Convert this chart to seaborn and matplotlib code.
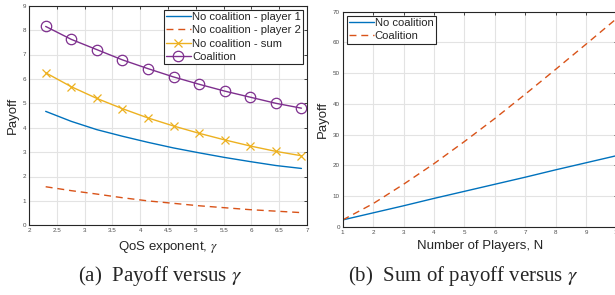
import numpy as np
import pandas as pd
import matplotlib
matplotlib.use("Agg")
import matplotlib.pyplot as plt
import seaborn as sns

# ---- data ----
gamma = [2.3, 2.76, 3.22, 3.68, 4.14, 4.6, 5.06, 5.52, 5.98, 6.44, 6.9]
nc_player1 = [4.67, 4.26, 3.92, 3.65, 3.40, 3.17, 2.97, 2.78, 2.61, 2.45, 2.33]
nc_player2 = [1.58, 1.42, 1.28, 1.13, 1.00, 0.90, 0.80, 0.72, 0.64, 0.58, 0.52]
nc_sum = [6.25, 5.68, 5.20, 4.78, 4.40, 4.07, 3.77, 3.50, 3.25, 3.03, 2.85]
coalition_a = [8.15, 7.62, 7.20, 6.78, 6.42, 6.08, 5.78, 5.50, 5.25, 5.00, 4.80]

players = [1, 2, 3, 4, 5, 6, 7, 8, 9, 10]
nc_total = [2.3, 4.6, 6.9, 9.3, 11.6, 13.9, 16.2, 18.6, 20.9, 23.2]
coalition_b = [2.3, 7.6, 13.9, 20.6, 27.8, 35.3, 43.2, 51.3, 59.5, 67.8]

labels_a = ["No coalition - player 1", "No coalition - player 2",
            "No coalition - sum", "Coalition"]
labels_b = ["No coalition", "Coalition"]
xticks_a = [2, 2.5, 3, 3.5, 4, 4.5, 5, 5.5, 6, 6.5, 7]
yticks_a = list(range(0, 10))
xticks_b = list(range(1, 11))
yticks_b = list(range(0, 80, 10))

C1, C2, C3, C4 = "#0072BD", "#D95319", "#EDB120", "#7E2F8E"

sns.set_theme(style="white")
plt.rcParams['font.family'] = ['Liberation Sans', 'DejaVu Sans']
plt.rcParams['mathtext.fontset'] = 'stix'

W, H = 615, 295
fig = plt.figure(figsize=(W / 100, H / 100), dpi=100)

def px_axes(x0, y0, x1, y1):
    return fig.add_axes([x0 / W, 1 - y1 / H, (x1 - x0) / W, (y1 - y0) / H])

def style(ax, xt, yt, xlim, ylim):
    ax.set_xlim(*xlim)
    ax.set_ylim(*ylim)
    ax.set_xticks(xt)
    ax.set_yticks(yt)
    ax.set_xticklabels([f"{v:g}" for v in xt])
    ax.set_yticklabels([f"{v:g}" for v in yt])
    ax.grid(True, color="#e3e3e3", linewidth=0.8)
    ax.set_axisbelow(True)
    ax.tick_params(direction="in", length=2.5, width=0.6, top=True, right=True,
                   labelsize=4.5, labelcolor="#4d4d4d", color="#262626", pad=2)
    for s in ax.spines.values():
        s.set_color("#262626")
        s.set_linewidth(0.8)
        s.set_visible(True)

def legend(ax, loc):
    lg = ax.legend(loc=loc, fontsize=8.1, frameon=True, fancybox=False,
                   edgecolor="#262626", framealpha=1, borderpad=0.2, labelspacing=0.3,
                   handlelength=2.2, handletextpad=0.1, borderaxespad=0.35)
    lg.get_frame().set_linewidth(0.8)

# ---- (a) ----
axa = px_axes(29, 5.7, 307, 225.3)
dfa = pd.DataFrame({"gamma": gamma, "p1": nc_player1, "p2": nc_player2,
                    "sum": nc_sum, "coal": coalition_a})
sns.lineplot(data=dfa, x="gamma", y="p1", ax=axa, color=C1, lw=1.0, label=labels_a[0])
sns.lineplot(data=dfa, x="gamma", y="p2", ax=axa, color=C2, lw=1.0,
             linestyle=(0, (5, 3.5)), label=labels_a[1])
sns.lineplot(data=dfa, x="gamma", y="sum", ax=axa, color=C3, lw=1.0, marker="x",
             markersize=5.5, markeredgewidth=0.9, markeredgecolor=C3, label=labels_a[2])
sns.lineplot(data=dfa, x="gamma", y="coal", ax=axa, color=C4, lw=1.0, marker="o",
             markersize=7.5, markerfacecolor="none", markeredgecolor=C4,
             markeredgewidth=0.9, label=labels_a[3])
style(axa, xticks_a, yticks_a, (2, 7), (0, 9))
axa.set_xlabel("QoS exponent, $\\gamma$", fontsize=9.5, labelpad=4)
axa.set_ylabel("Payoff", fontsize=9.5, labelpad=3)
legend(axa, "upper right")

# ---- (b) ----
axb = px_axes(342.7, 11.7, 616.7, 227)
dfb = pd.DataFrame({"N": players, "nc": nc_total, "coal": coalition_b})
sns.lineplot(data=dfb, x="N", y="nc", ax=axb, color=C1, lw=1.0, label=labels_b[0])
sns.lineplot(data=dfb, x="N", y="coal", ax=axb, color=C2, lw=1.0,
             linestyle=(0, (5, 3.5)), label=labels_b[1])
style(axb, xticks_b, yticks_b, (1, 10), (0, 70))
axb.set_xlabel("Number of Players, N", fontsize=9.5, labelpad=4)
axb.set_ylabel("Payoff", fontsize=9.5, labelpad=3)
legend(axb, "upper left")

# ---- captions ----
fig.text(160 / W, 1 - 281 / H, "(a)  Payoff versus $\\gamma$", ha="center", va="baseline",
         fontsize=15, family="Liberation Serif")
fig.text(463 / W, 1 - 281 / H, "(b)  Sum of payoff versus $\\gamma$", ha="center",
         va="baseline", fontsize=15, family="Liberation Serif")

fig.savefig("out.png", dpi=100)
